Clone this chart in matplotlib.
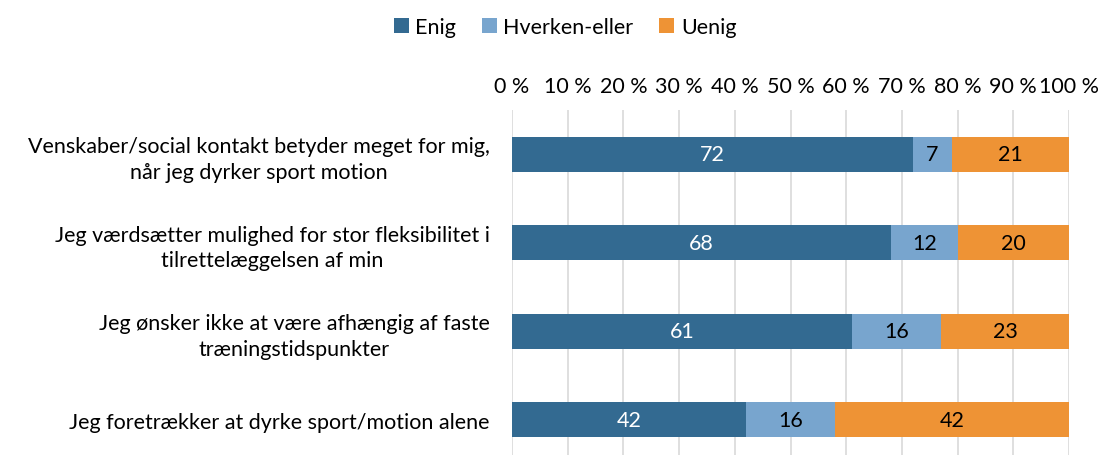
import matplotlib
matplotlib.use("Agg")
import matplotlib.pyplot as plt
import numpy as np

plt.rcParams['font.family'] = ['Lato', 'DejaVu Sans']

categories = [
    "Venskaber/social kontakt betyder meget for mig,\nnår jeg dyrker sport motion",
    "Jeg værdsætter mulighed for stor fleksibilitet i\ntilrettelæggelsen af min",
    "Jeg ønsker ikke at være afhængig af faste\ntræningstidspunkter",
    "Jeg foretrækker at dyrke sport/motion alene",
]
series = ["Enig", "Hverken-eller", "Uenig"]
enig = [72, 68, 61, 42]
hverken = [7, 12, 16, 16]
uenig = [21, 20, 23, 42]

colors = ["#336A91", "#78A5CE", "#EE9335"]
text_colors = ["white", "black", "black"]
fs = 15.5

fig = plt.figure(figsize=(11.01, 4.56), dpi=100)
ax = fig.add_axes([512 / 1101, -9 / 456, 557 / 1101, 354 / 456])

y = np.arange(len(categories))
left = np.zeros(len(categories))
for name, vals, col, tc in zip(series, [enig, hverken, uenig], colors, text_colors):
    vals = np.array(vals, dtype=float)
    ax.barh(y, vals, left=left, height=0.4, color=col, label=name, zorder=3)
    for yi, l, v in zip(y, left, vals):
        ax.text(l + v / 2, yi, f"{int(v)}", ha="center", va="center",
                color=tc, fontsize=fs, zorder=4)
    left += vals

ax.set_xlim(0, 100)
ax.set_ylim(len(categories) - 0.5, -0.5)
ax.set_xticks(np.arange(0, 101, 10))
ax.set_xticklabels([f"{t} %" for t in range(0, 101, 10)], fontsize=fs)
ax.xaxis.tick_top()
ax.tick_params(axis="x", length=0, pad=10)
ax.set_yticks(y)
ax.set_yticklabels(categories, fontsize=fs, multialignment="center",
                   linespacing=1.35)
ax.tick_params(axis="y", length=0, pad=16)
ax.grid(True, axis="x", color="#D9D9D9", linewidth=1.2, zorder=0)
for s in ax.spines.values():
    s.set_visible(False)

fig.legend(loc="center", bbox_to_anchor=(565 / 1101, 1 - 28 / 456), ncol=3,
           frameon=False, fontsize=fs, handlelength=0.7, handleheight=0.7,
           handletextpad=0.3, columnspacing=1.2)

fig.savefig("out.png", dpi=100)
